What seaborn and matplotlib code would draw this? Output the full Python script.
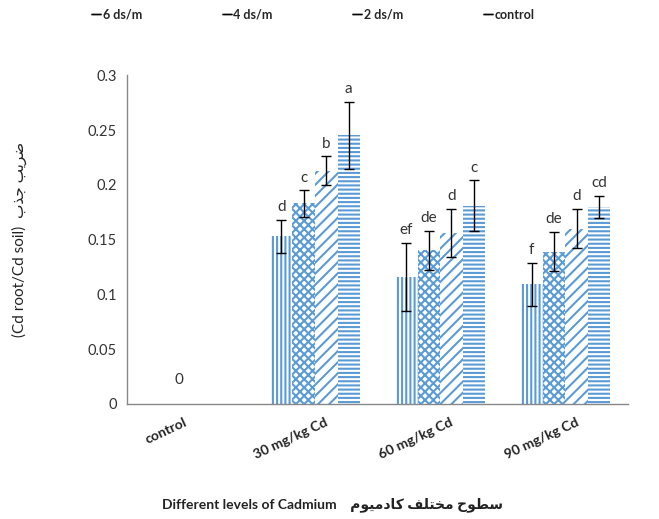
"""
Grouped bar chart: Cd root / Cd soil ratio for cadmium levels under salinity treatments
"""

import numpy as np
import pandas as pd
import seaborn as sns
import matplotlib.pyplot as plt
import matplotlib.transforms as mtransforms

# data
cd_levels = ['control', '30 mg/kg Cd', '60 mg/kg Cd', '90 mg/kg Cd']
salinity = ['control', '2 ds/m', '4 ds/m', '6 ds/m']

ratio_control = [0, 0.153, 0.116, 0.109]
ratio_2ds = [0, 0.183, 0.140, 0.139]
ratio_4ds = [0, 0.213, 0.156, 0.160]
ratio_6ds = [0, 0.245, 0.181, 0.180]

err_control = [0, 0.015, 0.031, 0.020]
err_2ds = [0, 0.012, 0.018, 0.018]
err_4ds = [0, 0.013, 0.022, 0.018]
err_6ds = [0, 0.031, 0.023, 0.010]

letters_control = ['', 'd', 'ef', 'f']
letters_2ds = ['0', 'c', 'de', 'de']
letters_4ds = ['', 'b', 'd', 'd']
letters_6ds = ['', 'a', 'c', 'cd']

xlabel_en = 'Different levels of Cadmium'
xlabel_fa = 'سطوح مختلف کادمیوم'
ylabel_en = '(Cd root/Cd soil)'
ylabel_fa = 'ضریب جذب'

# matplotlib does no arabic shaping, so pick the presentation forms by hand
# (isolated, final, initial, medial); None -> letter does not join the next one
ARABIC_FORMS = {
    'ا': ('\ufe8d', '\ufe8e', None, None),
    'ب': ('\ufe8f', '\ufe90', '\ufe91', '\ufe92'),
    'ت': ('\ufe95', '\ufe96', '\ufe97', '\ufe98'),
    'ج': ('\ufe9d', '\ufe9e', '\ufe9f', '\ufea0'),
    'ح': ('\ufea1', '\ufea2', '\ufea3', '\ufea4'),
    'خ': ('\ufea5', '\ufea6', '\ufea7', '\ufea8'),
    'د': ('\ufea9', '\ufeaa', None, None),
    'ذ': ('\ufeab', '\ufeac', None, None),
    'ر': ('\ufead', '\ufeae', None, None),
    'س': ('\ufeb1', '\ufeb2', '\ufeb3', '\ufeb4'),
    'ض': ('\ufebd', '\ufebe', '\ufebf', '\ufec0'),
    'ط': ('\ufec1', '\ufec2', '\ufec3', '\ufec4'),
    'ف': ('\ufed1', '\ufed2', '\ufed3', '\ufed4'),
    'ل': ('\ufedd', '\ufede', '\ufedf', '\ufee0'),
    'م': ('\ufee1', '\ufee2', '\ufee3', '\ufee4'),
    'و': ('\ufeed', '\ufeee', None, None),
    'ک': ('\ufb8e', '\ufb8f', '\ufb90', '\ufb91'),
    'ی': ('\ufbfc', '\ufbfd', '\ufbfe', '\ufbff'),
}


def farsi(text):
    out = []
    for i, ch in enumerate(text):
        forms = ARABIC_FORMS.get(ch)
        if forms is None:
            out.append(ch)
            continue
        prev = ARABIC_FORMS.get(text[i - 1]) if i > 0 else None
        nxt = ARABIC_FORMS.get(text[i + 1]) if i + 1 < len(text) else None
        join_prev = prev is not None and prev[2] is not None
        join_next = nxt is not None and forms[2] is not None
        if join_prev and join_next:
            out.append(forms[3])
        elif join_prev:
            out.append(forms[1])
        elif join_next:
            out.append(forms[2])
        else:
            out.append(forms[0])
    return ''.join(reversed(out))


# DataFrame
df = pd.DataFrame({
    'level': cd_levels * 4,
    'salinity': np.repeat(salinity, len(cd_levels)),
    'ratio': ratio_control + ratio_2ds + ratio_4ds + ratio_6ds,
})
errors = [err_control, err_2ds, err_4ds, err_6ds]
letters = [letters_control, letters_2ds, letters_4ds, letters_6ds]
hatches = ['||||', 'xxxx', '///', '----']

sns.set_style('white')
plt.rcParams['font.family'] = ['Lato', 'DejaVu Sans']
plt.rcParams['hatch.linewidth'] = 1.5

fig = plt.figure(figsize=(6.59, 5.19), dpi=100)
ax = fig.add_axes([0.193, 0.222, 0.76, 0.633])

sns.barplot(data=df, x='level', y='ratio', hue='salinity', order=cd_levels,
            hue_order=salinity, errorbar=None, width=0.72, gap=0, ax=ax)
ax.get_legend().remove()

hatch_color = '#5b9bd5'
for cont, hatch, err, lab in zip(ax.containers, hatches, errors, letters):
    xs, ys, es = [], [], []
    for bar, e, t in zip(cont, err, lab):
        bar.set_facecolor('white')
        bar.set_edgecolor(hatch_color)
        bar.set_linewidth(0)
        bar.set_hatch(hatch)
        x = bar.get_x() + bar.get_width() / 2
        y = bar.get_height()
        if e > 0:
            xs.append(x)
            ys.append(y)
            es.append(e)
        if t:
            off = 4 if e > 0 else 12
            ax.annotate(t, (x, y + e), xytext=(0, off), textcoords='offset points',
                        ha='center', va='bottom', fontsize=11, color='#333333')
    ax.errorbar(xs, ys, yerr=es, fmt='none', ecolor='black', elinewidth=1,
                capsize=3.5, capthick=1)

# axes
ax.set_ylim(0, 0.3)
ax.set_xlim(-0.5, 3.5)
ax.set_yticks([0, 0.05, 0.1, 0.15, 0.2, 0.25, 0.3])
ax.set_yticklabels(['0', '0.05', '0.1', '0.15', '0.2', '0.25', '0.3'])
ax.set_xticks(np.arange(-0.5, 4, 1), minor=True)
sns.despine(ax=ax)
for side in ['left', 'bottom']:
    ax.spines[side].set_color('#888888')
    ax.spines[side].set_linewidth(1)
ax.tick_params(axis='y', length=4, color='#888888', labelsize=10.5, labelcolor='#333333')
ax.tick_params(axis='x', which='major', length=0, pad=9)
ax.tick_params(axis='x', which='minor', length=5, color='#888888')

shift = mtransforms.ScaledTranslation(-0.24, 0, fig.dpi_scale_trans)
for lbl in ax.get_xticklabels():
    lbl.set_rotation(25)
    lbl.set_fontweight('bold')
    lbl.set_fontsize(10)
    lbl.set_color('#222222')
    lbl.set_ha('center')
    lbl.set_transform(lbl.get_transform() + shift)

ax.set_xlabel(xlabel_en + '    ' + farsi(xlabel_fa), fontsize=10, fontweight='bold',
              color='#222222')
ax.xaxis.set_label_coords((332 - 127) / 501, -0.285)
ax.set_ylabel(ylabel_en + '  ' + farsi(ylabel_fa), fontsize=11, color='#222222')
ax.yaxis.set_label_coords(-0.2, 0.5)

# legend across the top, reversed order like the original
handles = [cont[1] for cont in ax.containers][::-1]
fig.legend(handles, salinity[::-1], loc='upper left', bbox_to_anchor=(0.124, 1.005),
           ncol=4, frameon=False, handlelength=0.5, handleheight=0.9, handletextpad=0.3,
           columnspacing=6.5, prop={'weight': 'bold', 'size': 9})

plt.savefig('out.png', dpi=100)
